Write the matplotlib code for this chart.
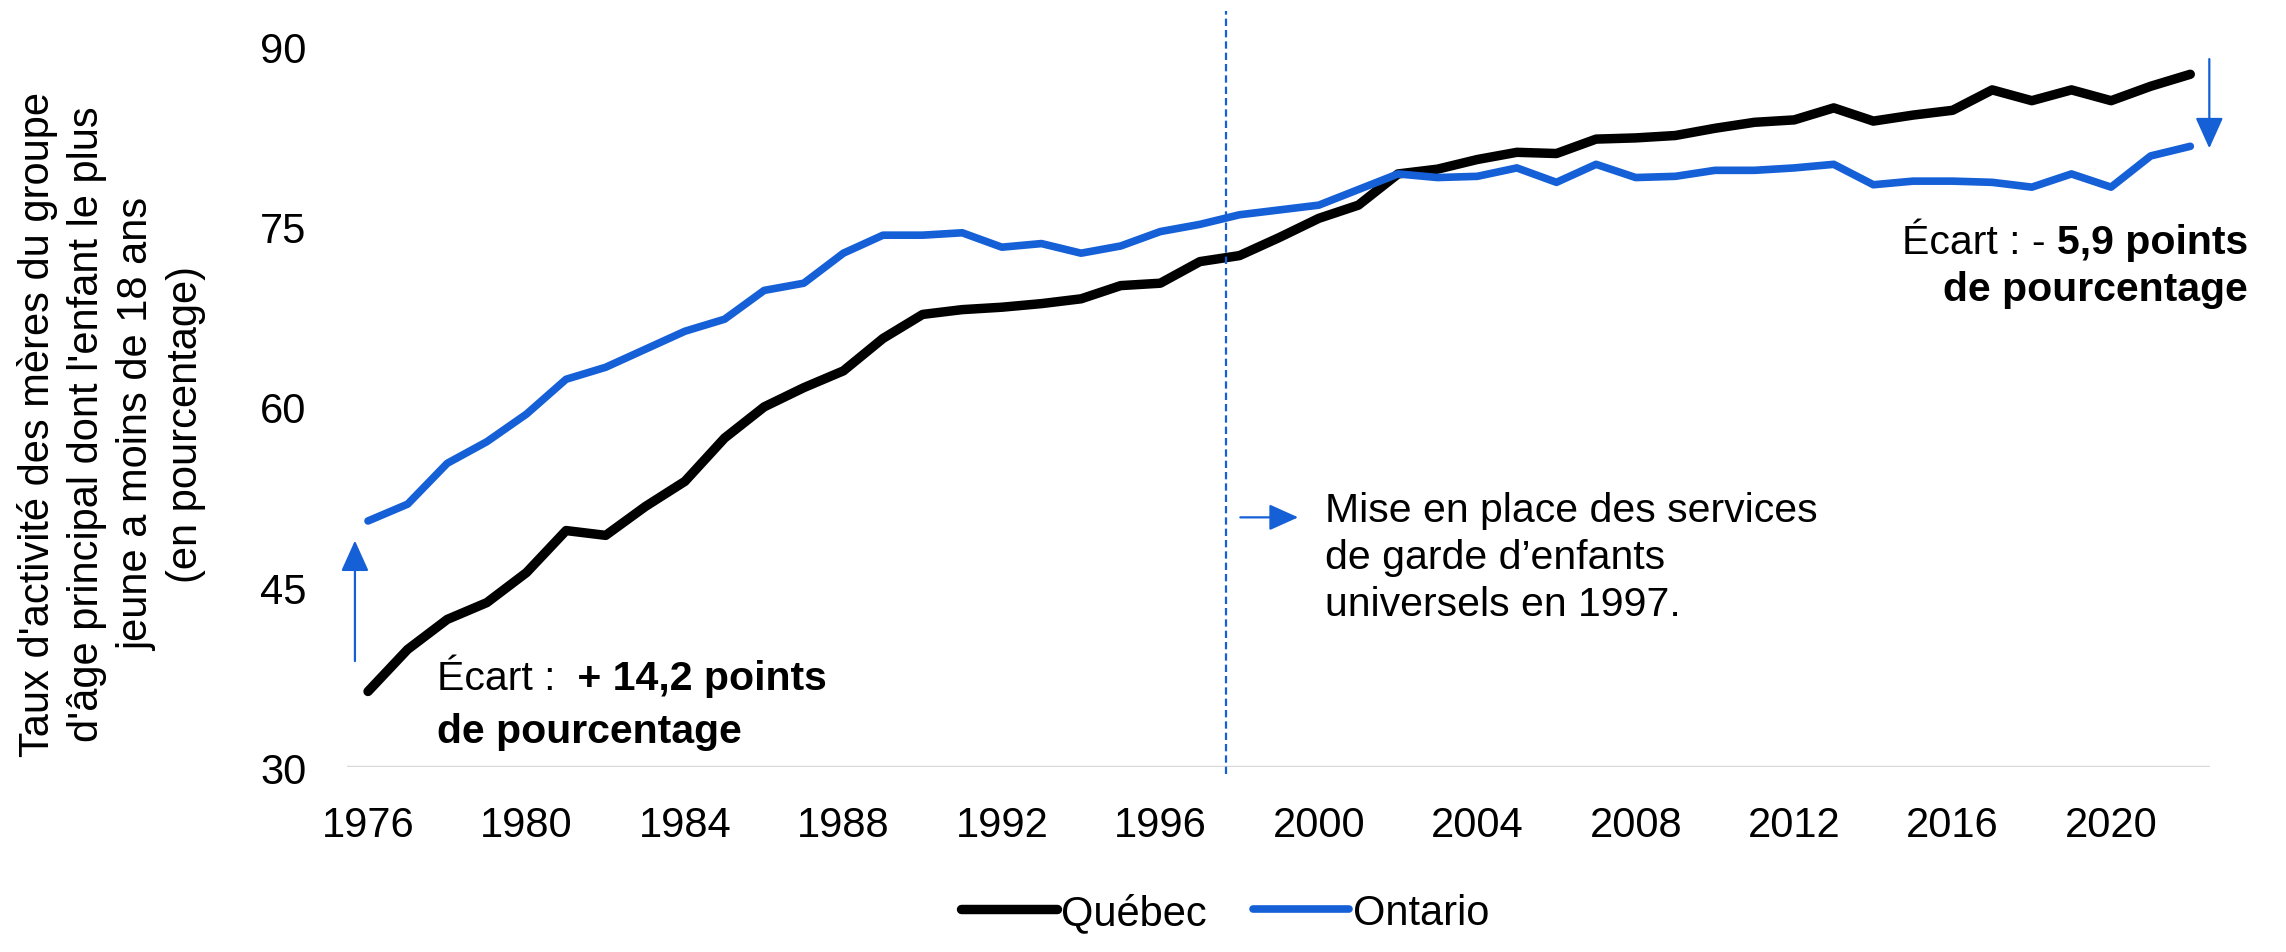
import numpy as np
import matplotlib
matplotlib.use("Agg")
import matplotlib.pyplot as plt

plt.rcParams['font.family'] = ['Liberation Sans', 'DejaVu Sans']

years = np.arange(1976, 2023)
quebec = [36.3, 39.8, 42.3, 43.7, 46.2, 49.7, 49.3, 51.7, 53.8, 57.4,
          60.0, 61.6, 63.0, 65.7, 67.7, 68.1, 68.3, 68.6, 69.0, 70.1,
          70.3, 72.1, 72.6, 74.1, 75.7, 76.8, 79.4, 79.8, 80.6, 81.2,
          81.1, 82.3, 82.4, 82.6, 83.2, 83.7, 83.9, 84.9, 83.8, 84.3,
          84.7, 86.4, 85.5, 86.4, 85.5, 86.7, 87.7]
ontario = [50.5, 51.9, 55.3, 57.1, 59.4, 62.3, 63.3, 64.8, 66.3, 67.3,
           69.7, 70.3, 72.8, 74.3, 74.3, 74.5, 73.3, 73.6, 72.8, 73.4,
           74.6, 75.2, 76.0, 76.4, 76.8, 78.1, 79.4, 79.1, 79.2, 79.9,
           78.7, 80.2, 79.1, 79.2, 79.7, 79.7, 79.9, 80.2, 78.5, 78.8,
           78.8, 78.7, 78.3, 79.4, 78.3, 80.9, 81.7]
xticks = list(range(1976, 2021, 4))
yticks = [30, 45, 60, 75, 90]

blue = '#1560D6'
fs = 30
fs_note = 29.5
head = '-|>,head_length=0.6,head_width=0.27'

fig = plt.figure(figsize=(22.86, 9.53), dpi=100)
ax = fig.add_axes([0.1518, 0.194, 0.815, 0.756])

ax.plot(years, quebec, color='black', lw=6.8, solid_capstyle='round', label='Québec')
ax.plot(years, ontario, color=blue, lw=5.5, solid_capstyle='round', label='Ontario')

ax.set_xlim(1975.47, 2022.5)
ax.set_ylim(30, 90)
ax.set_xticks(xticks)
ax.set_yticks(yticks)
ax.tick_params(axis='both', length=0, labelsize=fs)
ax.tick_params(axis='x', pad=27)
ax.tick_params(axis='y', pad=29)
for s in ax.spines.values():
    s.set_visible(False)
ax.axhline(30, color='#d9d9d9', lw=2.5, zorder=0)

# politique 1997
ax.plot([1997.65, 1997.65], [29.4, 93.0], color=blue, lw=1.6, ls=(0, (3.3, 1.8)), clip_on=False)
ax.annotate('', xy=(1999.55, 50.8), xytext=(1997.95, 50.8),
            arrowprops=dict(arrowstyle=head, color=blue, lw=1.6, mutation_scale=30))
ax.text(2000.15, 53.0, 'Mise en place des services\nde garde d’enfants\nuniversels en 1997.',
        fontsize=fs_note, ha='left', va='top', linespacing=1.3)

# écart 1976
ax.annotate('', xy=(1975.67, 49.1), xytext=(1975.67, 38.6),
            arrowprops=dict(arrowstyle=head, color=blue, lw=1.6, mutation_scale=32))
t1 = ax.text(1977.73, 37.4, 'Écart : ', fontsize=fs_note, ha='left', va='center')
ax.annotate(' + 14,2 points', xy=(1, 0), xycoords=t1, fontsize=fs_note, fontweight='bold',
            ha='left', va='bottom')
ax.text(1977.73, 33.0, 'de pourcentage', fontsize=fs_note, fontweight='bold', ha='left', va='center')

# écart 2022
ax.annotate('', xy=(2022.48, 81.3), xytext=(2022.48, 89.2),
            arrowprops=dict(arrowstyle=head, color=blue, lw=1.6, mutation_scale=32),
            annotation_clip=False)
t2 = ax.text(2023.45, 73.7, '5,9 points', fontsize=fs_note, fontweight='bold', ha='right', va='center')
ax.annotate('Écart : - ', xy=(0, 0), xycoords=t2, fontsize=fs_note, ha='right', va='bottom')
ax.text(2023.45, 69.8, 'de pourcentage', fontsize=fs_note, fontweight='bold', ha='right', va='center')

fig.text(0.0488, 0.555, "Taux d'activité des mères du groupe\nd'âge principal dont l'enfant le plus\n"
         "jeune a moins de 18 ans\n(en pourcentage)",
         rotation=90, ha='center', va='center', multialignment='center',
         fontsize=fs, linespacing=1.3)

fig.legend(loc='center', bbox_to_anchor=(0.536, 0.041), ncol=2, frameon=False,
           fontsize=fs, handlelength=2.3, handletextpad=0.1, columnspacing=1.1)

fig.savefig('out.png', dpi=100)
